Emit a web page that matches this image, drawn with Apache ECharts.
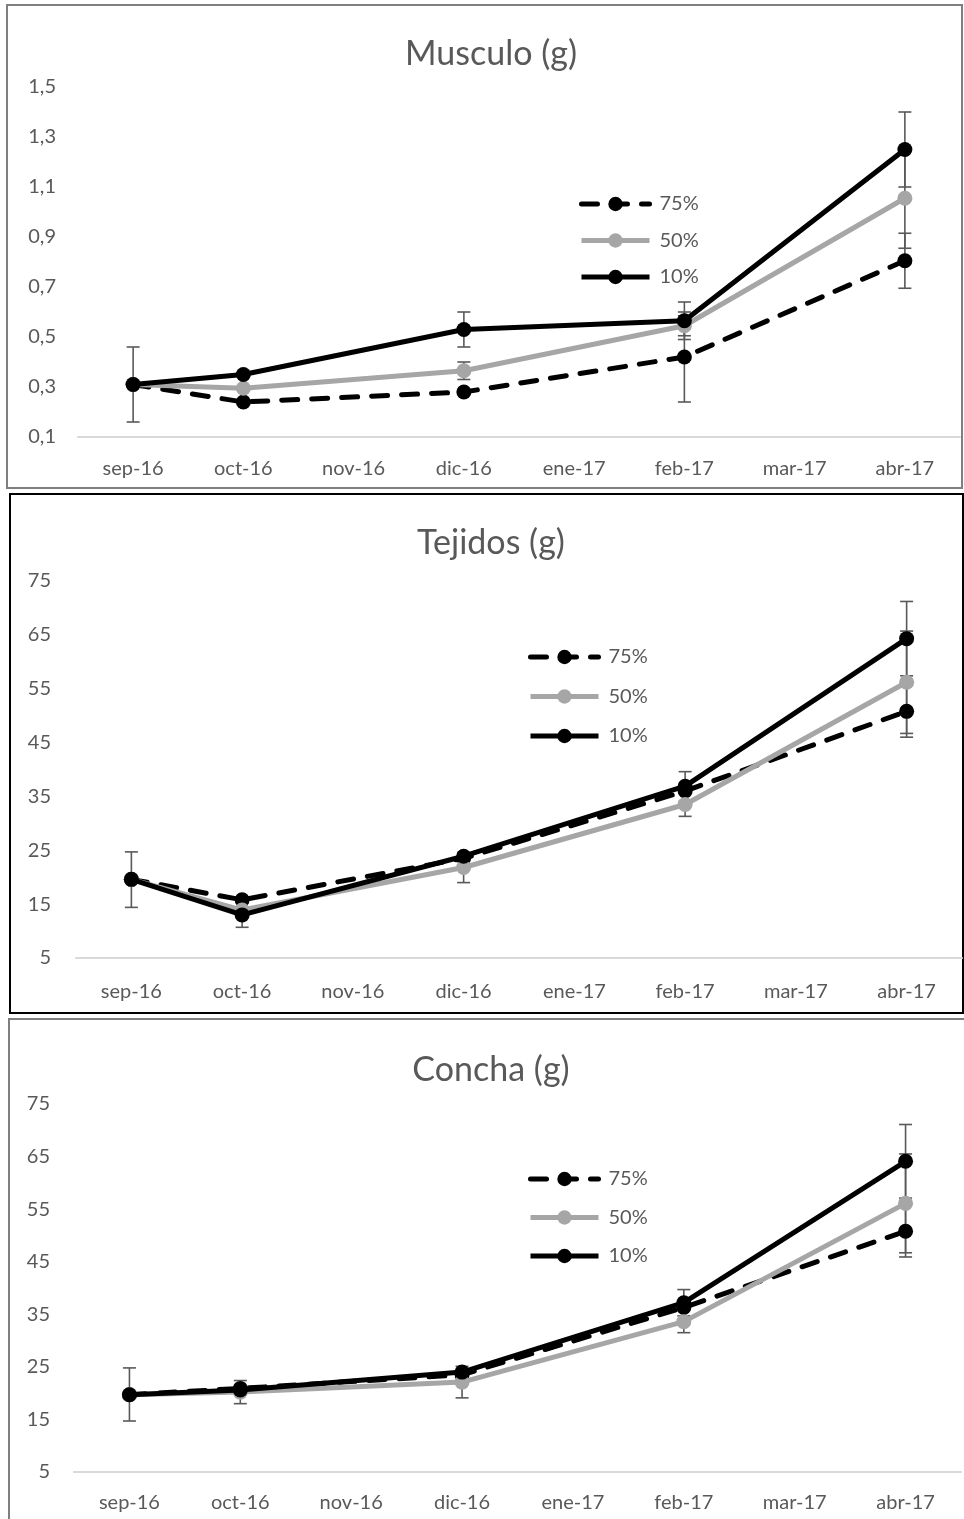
<!DOCTYPE html>
<html>
<head>
<meta charset="utf-8">
<script src="https://cdn.jsdelivr.net/npm/echarts@6/dist/echarts.min.js"></script>
<style>
html,body{margin:0;padding:0;background:#fff;}
#c{width:964px;height:1519px;}
</style>
</head>
<body>
<div id="c"></div>
<script>
// ---------- data ----------
const categories = ['sep-16','oct-16','nov-16','dic-16','ene-17','feb-17','mar-17','abr-17'];
const seriesNames = ['75%','50%','10%'];

const musculoTitle = 'Musculo (g)';
const musculo75 = [0.31, 0.24, null, 0.28, null, 0.42, null, 0.805];
const musculo50 = [0.31, 0.295, null, 0.365, null, 0.545, null, 1.055];
const musculo10 = [0.31, 0.35, null, 0.53, null, 0.565, null, 1.25];
const musculoErr75 = [null, null, null, null, null, [0.24, 0.60], null, [0.695, 0.915]];
const musculoErr50 = [null, null, null, [0.33, 0.40], null, [0.505, 0.585], null, [0.855, 1.255]];
const musculoErr10 = [[0.16, 0.46], null, null, [0.46, 0.60], null, [0.49, 0.64], null, [1.10, 1.40]];
const musculoTicks = {min: 0.1, max: 1.5, interval: 0.2};

const tejidosTitle = 'Tejidos (g)';
const tejidos75 = [19.6, 15.8, null, 23.5, null, 36.0, null, 50.8];
const tejidos50 = [19.6, 13.9, null, 21.8, null, 33.5, null, 56.2];
const tejidos10 = [19.6, 13.0, null, 23.9, null, 36.9, null, 64.3];
const tejidosErr75 = [null, null, null, null, null, null, null, [46.0, 55.6]];
const tejidosErr50 = [null, null, null, [19.0, 24.6], null, [31.3, 35.7], null, [46.7, 65.7]];
const tejidosErr10 = [[14.4, 24.7], [10.7, 15.3], null, null, null, [34.1, 39.6], null, [57.4, 71.2]];
const tejidosTicks = {min: 5, max: 75, interval: 10};

const conchaTitle = 'Concha (g)';
const concha75 = [19.7, 20.9, null, 23.5, null, 36.3, null, 50.8];
const concha50 = [19.7, 20.2, null, 22.1, null, 33.6, null, 56.1];
const concha10 = [19.7, 20.6, null, 24.0, null, 37.2, null, 64.1];
const conchaErr75 = [null, null, null, null, null, null, null, [45.9, 55.7]];
const conchaErr50 = [null, [18.0, 22.4], null, [19.1, 25.1], null, [31.5, 35.7], null, [46.7, 65.5]];
const conchaErr10 = [[14.7, 24.8], null, null, null, null, [34.7, 39.7], null, [57.1, 71.1]];
const conchaTicks = {min: 5, max: 75, interval: 10};

// ---------- layout / style ----------
const FONT = 'Lato';
const TXT = '#595959';
const panels = [
  {title: musculoTitle, vals: [musculo75, musculo50, musculo10], errs: [musculoErr75, musculoErr50, musculoErr10], ticks: musculoTicks,
   grid: {left: 78, top: 87, width: 882, height: 350}, titleTop: 32, legend: {left: 574, top: 189, gap: 16.5}, labelMargin: 22, xMargin: 22,
   fmt: v => v.toFixed(1).replace('.', ',')},
  {title: tejidosTitle, vals: [tejidos75, tejidos50, tejidos10], errs: [tejidosErr75, tejidosErr50, tejidosErr10], ticks: tejidosTicks,
   grid: {left: 76, top: 581, width: 886, height: 377}, titleTop: 521, legend: {left: 523, top: 642, gap: 19.5}, labelMargin: 25, xMargin: 24,
   fmt: v => String(Math.round(v))},
  {title: conchaTitle, vals: [concha75, concha50, concha10], errs: [conchaErr75, conchaErr50, conchaErr10], ticks: conchaTicks,
   grid: {left: 74, top: 1104, width: 887, height: 368}, titleTop: 1048, legend: {left: 523, top: 1164, gap: 18.5}, labelMargin: 24, xMargin: 21,
   fmt: v => String(Math.round(v))}
];

const lineStyles = [
  {color: '#000000', width: 5, type: [16, 14], cap: 'round'},
  {color: '#a6a6a6', width: 5, type: 'solid'},
  {color: '#000000', width: 5, type: 'solid'}
];

function renderErr(params, api) {
  const x = api.value(0), lo = api.value(1), hi = api.value(2);
  const p1 = api.coord([x, lo]), p2 = api.coord([x, hi]);
  const w = 6.5;
  const style = {stroke: '#595959', lineWidth: 1.6};
  return {type: 'group', children: [
    {type: 'line', shape: {x1: p1[0], y1: p1[1], x2: p2[0], y2: p2[1]}, style: style},
    {type: 'line', shape: {x1: p1[0] - w, y1: p1[1], x2: p1[0] + w, y2: p1[1]}, style: style},
    {type: 'line', shape: {x1: p2[0] - w, y1: p2[1], x2: p2[0] + w, y2: p2[1]}, style: style}
  ]};
}

const option = {
  animation: false,
  backgroundColor: '#ffffff',
  title: [], grid: [], xAxis: [], yAxis: [], legend: [], series: [],
  graphic: [
    {type: 'rect', shape: {x: 7, y: 5, width: 955, height: 483}, style: {fill: 'none', stroke: '#7f7f7f', lineWidth: 2}},
    {type: 'rect', shape: {x: 10, y: 494, width: 953, height: 519}, style: {fill: 'none', stroke: '#000000', lineWidth: 2}},
    {type: 'rect', shape: {x: 9, y: 1019, width: 970, height: 540}, style: {fill: 'none', stroke: '#7f7f7f', lineWidth: 2}}
  ]
};

panels.forEach((p, i) => {
  option.title.push({text: p.title, left: 486, textAlign: 'center', top: p.titleTop,
    textStyle: {fontFamily: FONT, fontSize: 34, fontWeight: 'normal', color: TXT}});
  option.grid.push(Object.assign({containLabel: false}, p.grid));
  option.xAxis.push({type: 'category', gridIndex: i, data: categories, boundaryGap: true,
    axisLine: {lineStyle: {color: '#d9d9d9', width: 2}}, axisTick: {show: false},
    axisLabel: {fontFamily: FONT, fontSize: 20, color: TXT, margin: p.xMargin, interval: 0}});
  option.yAxis.push({type: 'value', gridIndex: i, min: p.ticks.min, max: p.ticks.max, interval: p.ticks.interval,
    axisLine: {show: false}, axisTick: {show: false}, splitLine: {show: false},
    axisLabel: {fontFamily: FONT, fontSize: 20, color: TXT, margin: p.labelMargin, formatter: p.fmt}});
  option.legend.push({orient: 'vertical', left: p.legend.left, top: p.legend.top, itemGap: p.legend.gap,
    itemWidth: 68, itemHeight: 18, data: seriesNames,
    lineStyle: {width: 5},
    textStyle: {fontFamily: FONT, fontSize: 20, color: TXT, padding: [0, 0, 0, 5]}});
  // error bars (below lines)
  p.errs.forEach((errArr, k) => {
    const d = [];
    errArr.forEach((e, ci) => { if (e) d.push([ci, e[0], e[1]]); });
    option.series.push({type: 'custom', name: 'err' + i + k, xAxisIndex: i, yAxisIndex: i, z: 1,
      renderItem: renderErr, encode: {x: 0, y: [1, 2]}, data: d, silent: true});
  });
  p.vals.forEach((vals, k) => {
    const ls = lineStyles[k];
    option.series.push({type: 'line', name: seriesNames[k], xAxisIndex: i, yAxisIndex: i, z: 2 + k,
      data: vals, connectNulls: true, symbol: 'circle', symbolSize: 15, showSymbol: true,
      itemStyle: {color: ls.color},
      lineStyle: {color: ls.color, width: ls.width, type: ls.type, cap: ls.cap || 'butt'}});
  });
});

const chart = echarts.init(document.getElementById('c'), null, {renderer: 'canvas'});
chart.setOption(option);
</script>
</body>
</html>
